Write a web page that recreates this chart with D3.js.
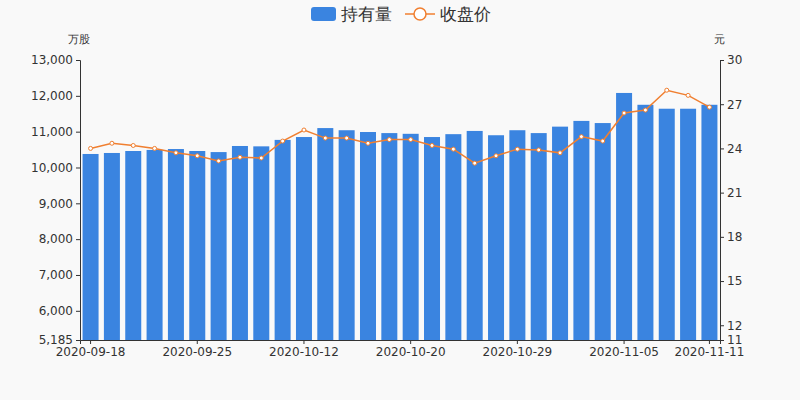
<!DOCTYPE html><html><head><meta charset="utf-8"><script src="https://cdn.jsdelivr.net/npm/d3@7"></script>
<style>body{margin:0;background:#f9f9f9}text{font-family:"DejaVu Sans",sans-serif}</style></head><body><svg width="800" height="400"></svg><script>
const dates=["2020-09-18","2020-09-21","2020-09-22","2020-09-23","2020-09-24","2020-09-25","2020-09-28","2020-09-29","2020-09-30","2020-10-09","2020-10-12","2020-10-13","2020-10-15","2020-10-16","2020-10-19","2020-10-20","2020-10-21","2020-10-22","2020-10-26","2020-10-28","2020-10-29","2020-10-30","2020-11-02","2020-11-03","2020-11-04","2020-11-05","2020-11-06","2020-11-09","2020-11-10","2020-11-11"];
const holdings=[10377,10405,10460,10490,10515,10460,10430,10600,10590,10770,10850,11100,11040,10990,10960,10940,10850,10930,11020,10900,11040,10960,11140,11300,11240,12080,11750,11640,11640,11750];
const closes=[24.0,24.35,24.2,24.0,23.7,23.5,23.15,23.4,23.35,24.5,25.25,24.7,24.7,24.35,24.6,24.6,24.2,23.95,23.0,23.5,23.95,23.9,23.7,24.8,24.5,26.4,26.6,27.95,27.6,26.8];
const leftTicks=[5185,6000,7000,8000,9000,10000,11000,12000,13000];
const rightTicks=[11,12,15,18,21,24,27,30];
const labelIdx=[0,5,10,15,20,25,29];
const svg=d3.select("svg");
const L=80,R=720,T=60,B=340;
const x=d3.scaleBand().domain(dates).range([L,R]).paddingInner(0.25).paddingOuter(0.12);
const yl=d3.scaleLinear().domain([5185,13000]).range([B,T]);
const yr=d3.scaleLinear().domain([11,30]).range([B,T]);
svg.append("g").selectAll("rect").data(holdings).join("rect")
 .attr("x",(d,i)=>x(dates[i])).attr("width",x.bandwidth()).attr("y",d=>yl(d)).attr("height",d=>B-yl(d)).attr("fill","#3a84e0");
const line=d3.line().x((d,i)=>x(dates[i])+x.bandwidth()/2).y(d=>yr(d));
svg.append("path").datum(closes).attr("d",line).attr("fill","none").attr("stroke","#f07f30").attr("stroke-width",1.5);
svg.append("g").selectAll("circle").data(closes).join("circle").attr("cx",(d,i)=>x(dates[i])+x.bandwidth()/2).attr("cy",d=>yr(d)).attr("r",2).attr("fill","#fff").attr("stroke","#f07f30");
const ga=svg.append("g").attr("transform",`translate(${L},0)`).call(d3.axisLeft(yl).tickValues(leftTicks).tickFormat(d3.format(",")).tickSize(4));
const gr=svg.append("g").attr("transform",`translate(${R},0)`).call(d3.axisRight(yr).tickValues(rightTicks).tickSize(4));
const gx=svg.append("g").attr("transform",`translate(0,${B})`).call(d3.axisBottom(x).tickValues(labelIdx.map(i=>dates[i])).tickSize(4));
[ga,gr,gx].forEach(g=>{g.selectAll("path,line").attr("stroke","#333");g.selectAll("text").attr("font-size",12).attr("fill","#333");});
svg.append("text").attr("x",68).attr("y",43).attr("font-size",11).attr("fill","#333").text("万股");
svg.append("text").attr("x",714).attr("y",43).attr("font-size",11).attr("fill","#333").text("元");
svg.append("rect").attr("x",311).attr("y",7).attr("width",25).attr("height",14).attr("rx",3).attr("fill","#3a84e0");
svg.append("text").attr("x",341).attr("y",20).attr("font-size",17).attr("fill","#333").text("持有量");
svg.append("line").attr("x1",405).attr("x2",435).attr("y1",14).attr("y2",14).attr("stroke","#f07f30").attr("stroke-width",1.5);
svg.append("circle").attr("cx",420).attr("cy",14).attr("r",6).attr("fill","#fff").attr("stroke","#f07f30").attr("stroke-width",1.5);
svg.append("text").attr("x",440).attr("y",20).attr("font-size",17).attr("fill","#333").text("收盘价");
</script></body></html>
